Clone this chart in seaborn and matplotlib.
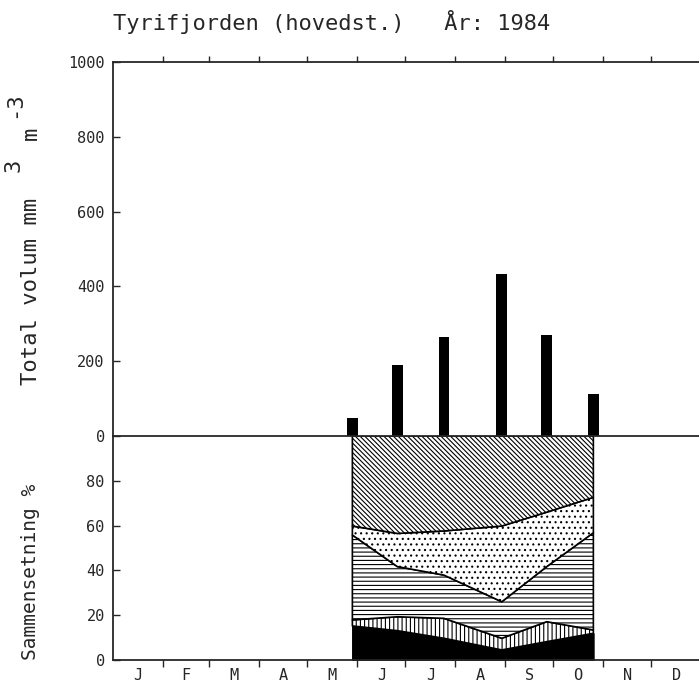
import numpy as np
import matplotlib
matplotlib.use("Agg")
import matplotlib.pyplot as plt
import seaborn as sns

# måneder og prøvedatoer (dag i året, 1984)
months = ["J", "F", "M", "A", "M", "J", "J", "A", "S", "O", "N", "D"]
month_len = [31, 29, 31, 30, 31, 30, 31, 31, 30, 31, 30, 31]
sample_day = [149, 177, 206, 242, 270, 299]

# total volum mm3 m-3
total_volume = [48, 189, 266, 433, 271, 112]

# sammensetning %, kumulative grenser nedenfra og opp
black_top = [15.2, 13.1, 9.7, 4.5, 8.2, 11.9]
vert_top = [17.9, 19.3, 18.6, 9.7, 17.1, 13.4]
horiz_top = [55.8, 41.7, 37.9, 26.0, 41.7, 56.8]
dots_top = [59.8, 56.5, 57.6, 59.8, 66.0, 72.6]
full_top = [100, 100, 100, 100, 100, 100]

sns.set_style("ticks")
plt.rcParams["font.family"] = ["DejaVu Sans Mono"]
plt.rcParams["hatch.linewidth"] = 0.8

month_start = np.concatenate([[0], np.cumsum(month_len)])
month_mid = (month_start[:-1] + month_start[1:]) / 2

W, H = 699, 682
fig = plt.figure(figsize=(W / 100, H / 100), dpi=100)
ax_bot = fig.add_axes([113 / W, 22 / H, 588 / W, 224 / H])
ax_top = fig.add_axes([113 / W, 246 / H, 588 / W, 374 / H])
ax_bot.patch.set_alpha(0)
ax_top.patch.set_alpha(0)

# søyler
sns.barplot(x=sample_day, y=total_volume, native_scale=True, orient="x",
            width=0.24, color="black", saturation=1, linewidth=0, ax=ax_top)
ax_top.set_xlim(0, month_start[-1])
ax_top.set_ylim(0, 1000)
ax_top.set_yticks(range(0, 1001, 200))
ax_top.xaxis.tick_top()
ax_top.set_xticks(month_start[1:-1])
ax_top.set_xticklabels([])
ax_top.tick_params(axis="x", direction="out", length=4, width=1)
ax_top.tick_params(axis="y", direction="in", length=5, width=1, labelsize=11, pad=6)
ax_top.set_xlabel("")
ax_top.set_ylabel("")
ax_top.spines["right"].set_visible(False)

# sammensetning
layers = [
    ([0] * 6, black_top, dict(facecolor="black", hatch=None)),
    (black_top, vert_top, dict(facecolor="white", hatch="||||")),
    (vert_top, horiz_top, dict(facecolor="white", hatch="----")),
    (horiz_top, dots_top, dict(facecolor="white", hatch="...")),
    (dots_top, full_top, dict(facecolor="white", hatch="\\" * 7)),
]
for lo, hi, style in layers:
    ax_bot.fill_between(sample_day, lo, hi, edgecolor="black",
                        linewidth=1.2, **style)

ax_bot.set_xlim(0, month_start[-1])
ax_bot.set_ylim(0, 100)
ax_bot.set_yticks(range(0, 81, 20))
ax_bot.set_xticks(month_start[1:-1])
ax_bot.set_xticklabels([])
ax_bot.set_xticks(month_mid, minor=True)
ax_bot.set_xticklabels(months, minor=True)
ax_bot.tick_params(axis="x", which="major", direction="out", length=5, width=1)
ax_bot.tick_params(axis="x", which="minor", length=0, labelsize=11, pad=6)
ax_bot.tick_params(axis="y", direction="in", length=5, width=1, labelsize=11, pad=6)
ax_bot.spines["right"].set_visible(False)
ax_bot.spines["top"].set_visible(False)

for ax in (ax_top, ax_bot):
    for s in ax.spines.values():
        s.set_linewidth(1.3)

fig.text(113 / W, 1 - 30 / H, "Tyrifjorden (hovedst.)   År: 1984",
         fontsize=15.8, va="baseline")

# y-aksetitler
lab = dict(rotation=90, rotation_mode="anchor", ha="left", va="baseline",
           fontsize=16)
fig.text(37 / W, 1 - 385 / H, "Total volum mm", **lab)
fig.text(20 / W, 1 - 172 / H, "3", **lab)
fig.text(37 / W, 1 - 140 / H, "m", **lab)
fig.text(20 / W, 1 - 118 / H, "-3", **lab)
fig.text(31 / W, 22 / H, "Sammensetning %", fontsize=14,
         rotation=90, ha="center", va="bottom")

plt.savefig("out.png", dpi=100)
